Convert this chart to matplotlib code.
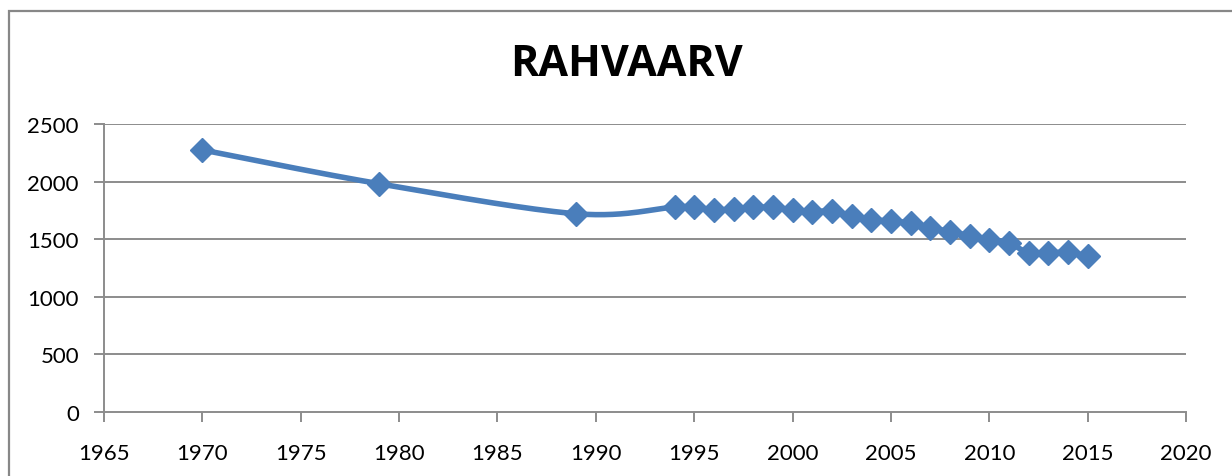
import numpy as np
import matplotlib
matplotlib.use("Agg")
import matplotlib.pyplot as plt
from matplotlib.patches import Rectangle

years = [1970, 1979, 1989, 1994, 1995, 1996, 1997, 1998, 1999, 2000, 2001, 2002,
         2003, 2004, 2005, 2006, 2007, 2008, 2009, 2010, 2011, 2012, 2013, 2014, 2015]
population = [2275, 1981, 1721, 1779, 1779, 1756, 1762, 1776, 1776, 1756, 1739, 1745,
              1704, 1670, 1658, 1641, 1600, 1566, 1531, 1497, 1468, 1381, 1381, 1387, 1352]
title = "RAHVAARV"
x_ticks = list(range(1965, 2021, 5))
y_ticks = [0, 500, 1000, 1500, 2000, 2500]

BLUE = "#4A7EBB"
GRID = "#8C8C8C"
FONT = ["Lato", "DejaVu Sans"]


def smooth(xs, ys, n=30):
    """Excel-style smoothed line: cubic Bezier with control points from neighbours."""
    xs = np.asarray(xs, float)
    ys = np.asarray(ys, float)
    pts = np.column_stack([xs, ys])
    out = []
    m = len(pts)
    for i in range(m - 1):
        p0 = pts[max(i - 1, 0)]
        p1 = pts[i]
        p2 = pts[i + 1]
        p3 = pts[min(i + 2, m - 1)]
        c1 = p1 + (p2 - p0) / 6.0
        c2 = p2 - (p3 - p1) / 6.0
        t = np.linspace(0, 1, n)[:, None]
        seg = ((1 - t) ** 3) * p1 + 3 * ((1 - t) ** 2) * t * c1 + 3 * (1 - t) * t ** 2 * c2 + t ** 3 * p2
        out.append(seg if i == 0 else seg[1:])
    s = np.vstack(out)
    return s[:, 0], s[:, 1]


fig = plt.figure(figsize=(12.32, 4.77), dpi=100)
W, H = 1232, 477

# chart area border
fig.patches.append(Rectangle((9 / W, -0.1), 1.2, 1 - 12 / H + 0.1, transform=fig.transFigure,
                             fill=False, edgecolor="#878787", linewidth=1.6))

ax = fig.add_axes([104 / W, 1 - 413 / H, (1186 - 104) / W, (413 - 125) / H])
ax.set_xlim(1965, 2020)
ax.set_ylim(0, 2500)
ax.set_xticks(x_ticks)
ax.set_yticks(y_ticks)

sx, sy = smooth(years, population)
ax.plot(sx, sy, color=BLUE, linewidth=4.0, solid_capstyle="round", zorder=3)
ax.plot(years, population, linestyle="none", marker="D", markersize=12,
        color=BLUE, markeredgecolor=BLUE, zorder=4)

for y in y_ticks[1:]:
    ax.axhline(y, color=GRID, linewidth=1.4, zorder=1)

for s in ["top", "right"]:
    ax.spines[s].set_visible(False)
for s in ["left", "bottom"]:
    ax.spines[s].set_color(GRID)
    ax.spines[s].set_linewidth(1.4)

ax.tick_params(axis="both", direction="out", length=7, width=1.4, color=GRID,
               labelsize=16, labelcolor="black")
ax.tick_params(axis="y", pad=11)
ax.tick_params(axis="x", pad=15)
for lab in ax.get_xticklabels() + ax.get_yticklabels():
    lab.set_fontfamily(FONT)

fig.text(627 / W, 1 - 65 / H, title, ha="center", va="center", fontsize=31,
         fontweight="bold", family=["Open Sans", "DejaVu Sans"])

fig.savefig("out.png", dpi=100)
